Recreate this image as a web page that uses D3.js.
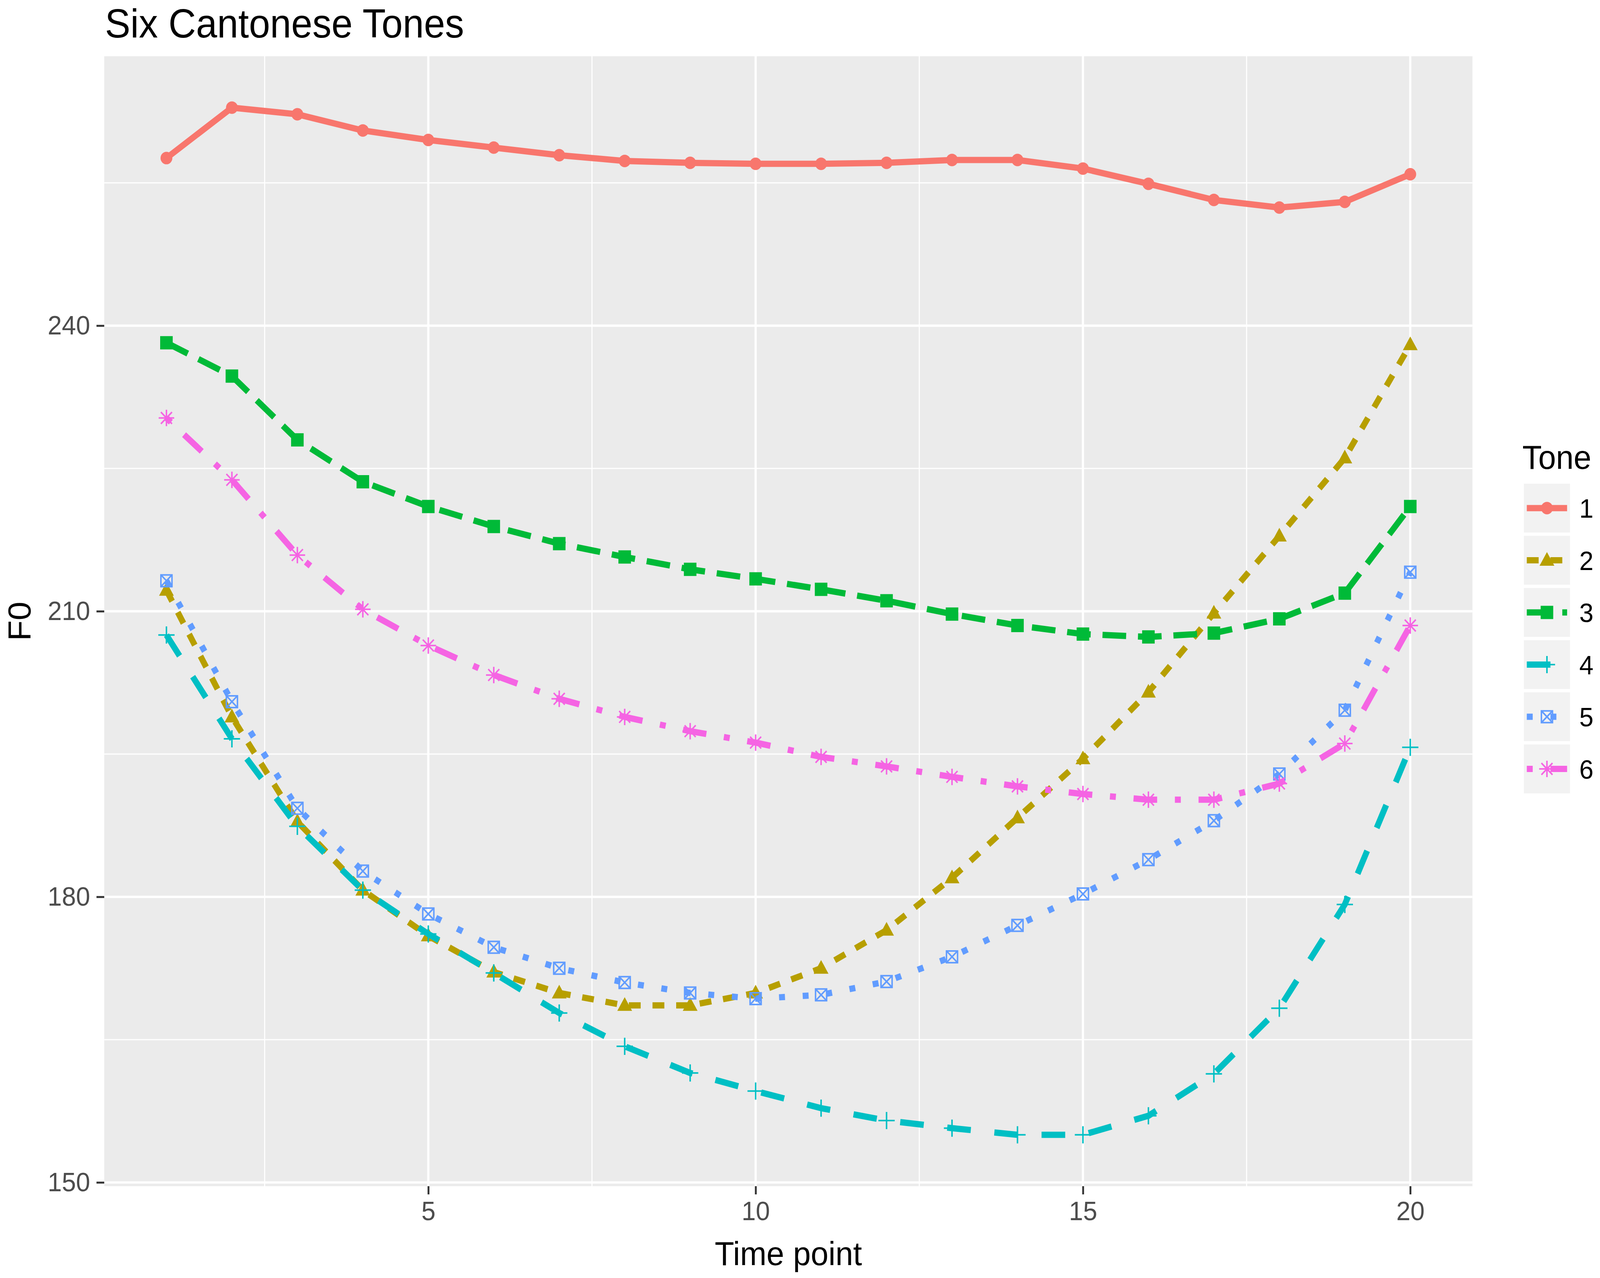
<!DOCTYPE html>
<html>
<head>
<meta charset="utf-8">
<script src="https://cdn.jsdelivr.net/npm/d3@7"></script>
<style>
  html, body { margin: 0; padding: 0; background: #fff; width: 100%; height: 100%; overflow: hidden; }
  svg { display: block; width: 100vw; height: 100vh; }
  text { font-family: "Liberation Sans", Arial, sans-serif; }
</style>
</head>
<body>
<script>
// data
var timePoints = [1,2,3,4,5,6,7,8,9,10,11,12,13,14,15,16,17,18,19,20];
var tones = ["1","2","3","4","5","6"];
var tone1 = [257.6,262.9,262.2,260.5,259.5,258.7,257.9,257.3,257.1,257.0,257.0,257.1,257.4,257.4,256.5,254.9,253.2,252.4,253.0,255.9];
var tone2 = [212.2,198.9,187.9,180.7,175.9,172.1,169.9,168.6,168.6,169.9,172.5,176.5,182.0,188.3,194.5,201.5,209.8,217.9,226.1,238.0];
var tone3 = [238.2,234.7,228.0,223.6,221.0,218.9,217.1,215.7,214.4,213.4,212.3,211.1,209.7,208.5,207.6,207.3,207.7,209.2,211.9,221.0];
var tone4 = [207.5,196.6,187.4,180.7,176.1,172.0,167.8,164.3,161.5,159.6,157.8,156.5,155.7,155.0,155.0,157.0,161.4,168.3,179.2,195.7];
var tone5 = [213.2,200.5,189.3,182.7,178.2,174.7,172.5,171.0,169.9,169.3,169.7,171.1,173.7,177.0,180.3,183.9,188.0,192.9,199.6,214.1];
var tone6 = [230.3,223.8,215.9,210.2,206.4,203.3,200.8,198.9,197.4,196.2,194.7,193.7,192.6,191.6,190.8,190.2,190.2,191.9,196.1,208.5];
var series = [tone1, tone2, tone3, tone4, tone5, tone6];

var xTicks = [5,10,15,20];
var xMinor = [2.5,7.5,12.5,17.5];
var yTicks = [150,180,210,240];
var yMinor = [165,195,225,255];

var colors = ["#F8766D","#B79F00","#00BA38","#00BFC4","#619CFF","#F564E3"];
var dashes = [null, [2,2], [4,2], [4,4], [1,3], [1,3,4,3]];
var shapes = ["circle","triangle","square","plus","squarecross","asterisk"];

var W = 4328, H = 3271;
var panel = {left: 282, right: 3983, top: 144, bottom: 3036};
var lw = 16;

// the drawing is laid out in a 4328x3271 box and stretched to the window
var svg = d3.select("body")
  .append("svg")
  .attr("viewBox", "0 0 " + W + " " + H)
  .attr("preserveAspectRatio", "none");

svg.append("rect").attr("width", W).attr("height", H).attr("fill", "#fff");

// ggplot-style 5% expansion
var xExt = d3.extent(timePoints);
var xPad = (xExt[1] - xExt[0]) * 0.05;
var allY = d3.merge(series);
var yExt = d3.extent(allY);
var yPad = (yExt[1] - yExt[0]) * 0.05;

var x = d3.scaleLinear()
  .domain([xExt[0] - xPad, xExt[1] + xPad])
  .range([panel.left, panel.right]);
var y = d3.scaleLinear()
  .domain([yExt[0] - yPad, yExt[1] + yPad])
  .range([panel.bottom, panel.top]);

// panel background and grid
svg.append("rect")
  .attr("x", panel.left).attr("y", panel.top)
  .attr("width", panel.right - panel.left)
  .attr("height", panel.bottom - panel.top)
  .attr("fill", "#EBEBEB");

var grid = svg.append("g");
grid.selectAll(".ymin").data(yMinor).enter().append("line")
  .attr("x1", panel.left).attr("x2", panel.right)
  .attr("y1", function(d){ return y(d); }).attr("y2", function(d){ return y(d); })
  .attr("stroke", "#fff").attr("stroke-width", 3);
grid.selectAll(".xmin").data(xMinor).enter().append("line")
  .attr("y1", panel.top).attr("y2", panel.bottom)
  .attr("x1", function(d){ return x(d); }).attr("x2", function(d){ return x(d); })
  .attr("stroke", "#fff").attr("stroke-width", 3);
grid.selectAll(".ymaj").data(yTicks).enter().append("line")
  .attr("x1", panel.left).attr("x2", panel.right)
  .attr("y1", function(d){ return y(d); }).attr("y2", function(d){ return y(d); })
  .attr("stroke", "#fff").attr("stroke-width", 6);
grid.selectAll(".xmaj").data(xTicks).enter().append("line")
  .attr("y1", panel.top).attr("y2", panel.bottom)
  .attr("x1", function(d){ return x(d); }).attr("x2", function(d){ return x(d); })
  .attr("stroke", "#fff").attr("stroke-width", 6);

// axes
var xAxis = svg.append("g")
  .attr("transform", "translate(0," + panel.bottom + ")")
  .call(d3.axisBottom(x).tickValues(xTicks).tickSize(21).tickPadding(17).tickFormat(d3.format("d")));
var yAxis = svg.append("g")
  .attr("transform", "translate(" + panel.left + ",0)")
  .call(d3.axisLeft(y).tickValues(yTicks).tickSize(21).tickPadding(17).tickFormat(d3.format("d")));
[xAxis, yAxis].forEach(function(a){
  a.select(".domain").remove();
  a.selectAll(".tick line").attr("stroke", "#333333").attr("stroke-width", 5);
  a.selectAll(".tick text")
    .attr("fill", "#4D4D4D")
    .style("font-size", "69px")
    .style("font-family", "Liberation Sans, Arial, sans-serif");
});

// symbols
function drawSymbol(g, shape, cx, cy, col) {
  if (shape === "circle") {
    g.append("circle").attr("cx", cx).attr("cy", cy).attr("r", 16).attr("fill", col);
  } else if (shape === "triangle") {
    var s = 20;
    g.append("path")
      .attr("d", "M" + cx + "," + (cy - s * 1.05) + "L" + (cx + s) + "," + (cy + s * 0.7) + "L" + (cx - s) + "," + (cy + s * 0.7) + "Z")
      .attr("fill", col);
  } else if (shape === "square") {
    g.append("rect").attr("x", cx - 17).attr("y", cy - 17).attr("width", 34).attr("height", 34).attr("fill", col);
  } else if (shape === "plus") {
    var r = 22;
    g.append("path")
      .attr("d", "M" + (cx - r) + "," + cy + "H" + (cx + r) + "M" + cx + "," + (cy - r) + "V" + (cy + r))
      .attr("stroke", col).attr("stroke-width", 4).attr("fill", "none");
  } else if (shape === "squarecross") {
    var h = 15;
    g.append("path")
      .attr("d", "M" + (cx - h) + "," + (cy - h) + "H" + (cx + h) + "V" + (cy + h) + "H" + (cx - h) + "Z" +
                 "M" + (cx - h) + "," + (cy - h) + "L" + (cx + h) + "," + (cy + h) +
                 "M" + (cx + h) + "," + (cy - h) + "L" + (cx - h) + "," + (cy + h))
      .attr("stroke", col).attr("stroke-width", 4).attr("fill", "none");
  } else if (shape === "asterisk") {
    var a = 21, b = 15;
    g.append("path")
      .attr("d", "M" + (cx - a) + "," + cy + "H" + (cx + a) + "M" + cx + "," + (cy - a) + "V" + (cy + a) +
                 "M" + (cx - b) + "," + (cy - b) + "L" + (cx + b) + "," + (cy + b) +
                 "M" + (cx + b) + "," + (cy - b) + "L" + (cx - b) + "," + (cy + b))
      .attr("stroke", col).attr("stroke-width", 4).attr("fill", "none");
  }
}

function dashString(i) {
  if (!dashes[i]) return null;
  return dashes[i].map(function(v){ return v * lw; }).join(",");
}

// lines and points
var line = d3.line()
  .x(function(d, i){ return x(timePoints[i]); })
  .y(function(d){ return y(d); });

var plot = svg.append("g");
series.forEach(function(vals, i) {
  var g = plot.append("g");
  g.append("path")
    .datum(vals)
    .attr("d", line)
    .attr("fill", "none")
    .attr("stroke", colors[i])
    .attr("stroke-width", lw)
    .attr("stroke-linecap", "butt")
    .attr("stroke-linejoin", "round")
    .attr("stroke-dasharray", dashString(i));
  vals.forEach(function(v, j) {
    drawSymbol(g, shapes[i], x(timePoints[j]), y(v), colors[i]);
  });
});

// titles
svg.append("text")
  .attr("x", 284).attr("y", 96)
  .style("font-size", "103px")
  .attr("fill", "#000")
  .text("Six Cantonese Tones");

svg.append("text")
  .attr("x", (panel.left + panel.right) / 2).attr("y", 3238)
  .attr("text-anchor", "middle")
  .style("font-size", "86px")
  .text("Time point");

svg.append("text")
  .attr("transform", "translate(82," + ((panel.top + panel.bottom) / 2) + ") rotate(-90)")
  .attr("text-anchor", "middle")
  .style("font-size", "86px")
  .text("F0");

// legend
var legend = svg.append("g");
legend.append("text")
  .attr("x", 4118).attr("y", 1200)
  .style("font-size", "86px")
  .text("Tone");

var keyX = 4122, keyTop = 1238, keyW = 125, keyH = 125, keyStep = 133.5;
tones.forEach(function(t, i) {
  var ky = keyTop + i * keyStep;
  var cy = ky + keyH / 2;
  legend.append("rect")
    .attr("x", keyX).attr("y", ky)
    .attr("width", keyW).attr("height", keyH)
    .attr("fill", "#F2F2F2");
  legend.append("line")
    .attr("x1", keyX + 8).attr("x2", keyX + keyW - 8)
    .attr("y1", cy).attr("y2", cy)
    .attr("stroke", colors[i])
    .attr("stroke-width", lw)
    .attr("stroke-dasharray", dashString(i));
  drawSymbol(legend, shapes[i], keyX + keyW / 2, cy, colors[i]);
  legend.append("text")
    .attr("x", 4272).attr("y", cy)
    .attr("dy", "0.36em")
    .style("font-size", "69px")
    .text(t);
});
</script>
</body>
</html>
